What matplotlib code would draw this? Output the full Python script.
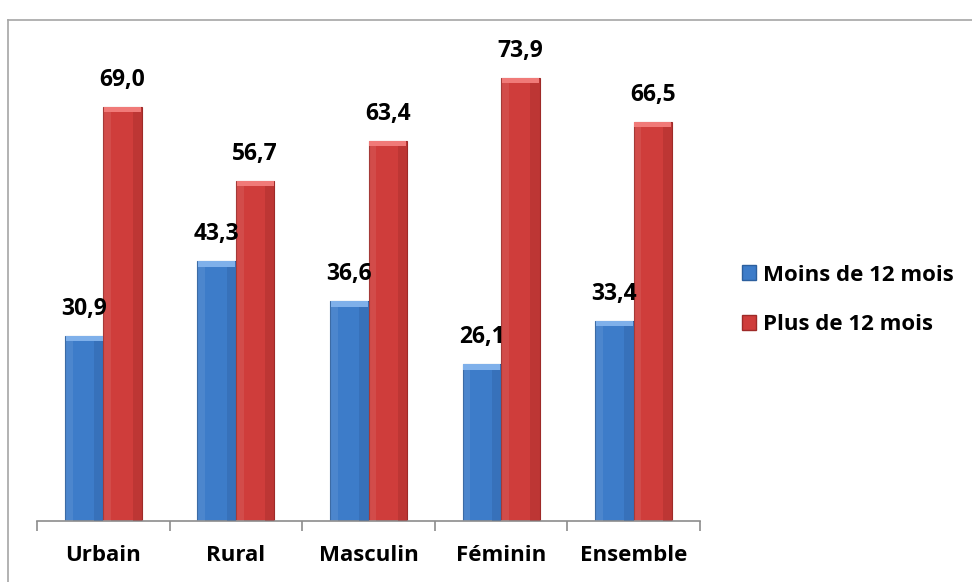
import matplotlib
matplotlib.use("Agg")
import matplotlib.pyplot as plt
import numpy as np
from matplotlib.lines import Line2D
from matplotlib.patches import Patch

categories = ["Urbain", "Rural", "Masculin", "Féminin", "Ensemble"]
moins_12 = [30.9, 43.3, 36.6, 26.1, 33.4]
plus_12 = [69.0, 56.7, 63.4, 73.9, 66.5]
series_names = ["Moins de 12 mois", "Plus de 12 mois"]

plt.rcParams['font.family'] = ['Open Sans', 'DejaVu Sans']

fig = plt.figure(figsize=(9.72, 5.82), dpi=100)
W, H = 972, 582
fig.add_artist(Line2D([8/W, 8/W], [0, 1-20/H], color="#a6a6a6", lw=1.2, transform=fig.transFigure))
fig.add_artist(Line2D([8/W, 1], [1-20/H, 1-20/H], color="#a6a6a6", lw=1.2, transform=fig.transFigure))

ax = fig.add_axes([37/W, 1-521/H, (700-37)/W, (521-41)/H])
x = np.arange(len(categories))
bw = 0.29
blue, blue_dark, blue_light = "#3d7cc9", "#2c5f9e", "#7fb0ea"
red, red_dark, red_light = "#cf3d3b", "#9e2a28", "#f07a78"

def draw(vals, offset, c, cd, cl):
    ax.bar(x + offset, vals, bw, color=c, edgecolor=cd, linewidth=0.8, zorder=2)
    ax.bar(x + offset + bw*0.38, vals, bw*0.24, color=cd, alpha=0.35, linewidth=0, zorder=3)
    ax.bar(x + offset - bw*0.40, vals, bw*0.2, color="white", alpha=0.08, linewidth=0, zorder=3)
    ax.bar(x + offset, [0.9]*len(vals), bw*0.96, bottom=np.array(vals)-0.9, color=cl, linewidth=0, zorder=4)

draw(moins_12, -bw/2, blue, blue_dark, blue_light)
draw(plus_12, bw/2, red, red_dark, red_light)

for i in range(len(categories)):
    ax.text(x[i]-bw/2, moins_12[i] + 2.5, f"{moins_12[i]:.1f}".replace(".", ","),
            ha="center", va="bottom", fontsize=16.5, fontweight="bold", color="black")
    ax.text(x[i]+bw/2, plus_12[i] + 2.5, f"{plus_12[i]:.1f}".replace(".", ","),
            ha="center", va="bottom", fontsize=16.5, fontweight="bold", color="black")

ax.set_xlim(-0.5, len(categories)-0.5)
ax.set_ylim(0, 80)
for s in ["top", "right", "left"]:
    ax.spines[s].set_visible(False)
ax.spines["bottom"].set_color("#8c8c8c")
ax.spines["bottom"].set_linewidth(1.2)
ax.set_yticks([])
ax.set_xticks(x)
ax.set_xticklabels(categories, fontsize=16, fontweight="bold")
ax.tick_params(axis="x", which="major", length=0, pad=17)
ax.set_xticks(np.arange(len(categories)+1)-0.5, minor=True)
ax.tick_params(axis="x", which="minor", length=7, color="#8c8c8c", width=1.2)

handles = [Patch(facecolor=blue, edgecolor=blue_dark), Patch(facecolor=red, edgecolor=red_dark)]
leg = fig.legend(handles, series_names, loc="center left", bbox_to_anchor=(722/W, 1-300/H),
                 frameon=False, prop={"size": 16, "weight": "bold"},
                 handlelength=0.65, handleheight=0.65, handletextpad=0.3, labelspacing=1.3)

fig.savefig("out.png", dpi=100)
